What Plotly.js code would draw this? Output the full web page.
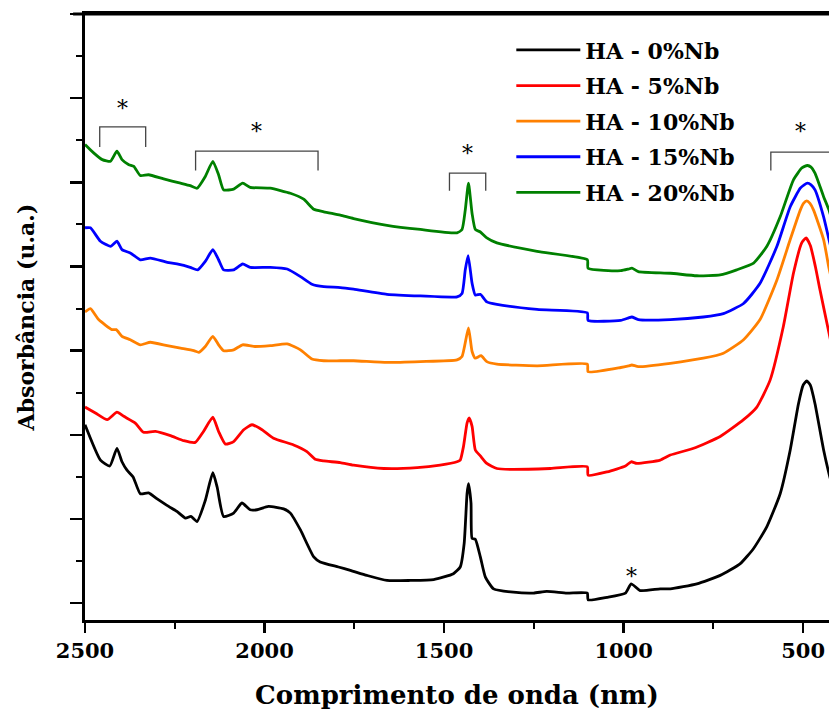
<!DOCTYPE html>
<html>
<head>
<meta charset="utf-8">
<script src="https://cdn.plot.ly/plotly-3.0.1.min.js"></script>
<style>html,body{margin:0;padding:0;background:#fff;}#chart{width:829px;height:716px;}</style>
</head>
<body>
<div id="chart"></div>
<script>
// ---- Data (wavelength in nm, absorbance in arbitrary units, offset stacked) ----
const seriesNames = ["HA - 0%Nb", "HA - 5%Nb", "HA - 10%Nb", "HA - 15%Nb", "HA - 20%Nb"];
const seriesColors = ["#000000", "#ff0000", "#ff8000", "#0000ff", "#008000"];

const wl0 = [2500,2457,2431,2411,2397,2383,2366,2346,2323,2299,2267,2244,2220,2205,2188,2165,2144,2132,2114,2086,2063,2040,2021,1989,1947,1928,1900,1863,1845,1794,1761,1715,1659,1594,1529,1474,1455,1444,1436,1432,1425,1422,1413,1399,1385,1362,1307,1251,1214,1158,1101,1099,1046,995,979,954,898,870,796,731,675,638,601,564,536,513,500,490,480,467,443,428,410];
const abs0 = [2.12,1.70,1.63,1.84,1.68,1.58,1.50,1.30,1.31,1.24,1.15,1.09,1.01,1.03,0.97,1.22,1.55,1.38,1.03,1.07,1.19,1.11,1.11,1.15,1.12,1.07,0.87,0.55,0.49,0.43,0.39,0.33,0.27,0.27,0.28,0.35,0.43,0.71,1.30,1.42,1.19,0.77,0.76,0.55,0.31,0.17,0.13,0.12,0.14,0.12,0.12,0.04,0.07,0.12,0.23,0.15,0.17,0.17,0.23,0.33,0.47,0.65,0.91,1.30,1.82,2.37,2.59,2.64,2.59,2.37,1.82,1.54,1.25];

const wl5 = [2500,2471,2438,2411,2392,2360,2337,2304,2262,2225,2193,2170,2144,2128,2109,2086,2058,2035,2007,1975,1919,1882,1859,1835,1789,1752,1668,1575,1511,1464,1455,1446,1436,1430,1422,1413,1399,1381,1353,1316,1204,1101,1099,1046,995,979,963,898,870,805,731,666,629,592,555,527,504,492,480,466,453,428,410];
const abs5 = [2.33,2.26,2.18,2.27,2.22,2.14,2.03,2.04,1.99,1.93,1.91,2.04,2.21,2.04,1.89,1.92,2.06,2.12,2.06,1.96,1.88,1.80,1.71,1.69,1.67,1.64,1.60,1.61,1.64,1.68,1.70,1.86,2.14,2.20,2.10,1.82,1.75,1.66,1.60,1.59,1.60,1.62,1.52,1.56,1.63,1.68,1.66,1.70,1.76,1.84,1.98,2.18,2.33,2.65,3.29,3.92,4.28,4.34,4.25,4.00,3.72,3.21,2.85];

const wl10 = [2500,2485,2462,2425,2413,2397,2374,2346,2318,2271,2234,2197,2183,2165,2144,2128,2114,2086,2061,2030,1984,1937,1900,1868,1835,1789,1752,1659,1566,1464,1450,1432,1422,1413,1397,1381,1353,1241,1101,1099,1008,986,977,959,870,778,722,666,620,573,536,508,499,490,481,471,443,428,410];
const abs10 = [3.46,3.50,3.37,3.25,3.25,3.17,3.13,3.07,3.10,3.06,3.03,3.00,2.98,3.05,3.17,3.07,3.00,3.01,3.07,3.05,3.06,3.08,3.01,2.90,2.88,2.88,2.88,2.86,2.87,2.89,2.93,3.27,2.99,2.91,2.94,2.87,2.84,2.82,2.84,2.75,2.80,2.82,2.83,2.81,2.85,2.91,2.97,3.13,3.37,3.84,4.32,4.67,4.75,4.78,4.75,4.67,4.32,3.98,3.65];

const wl15 = [2500,2485,2457,2429,2411,2397,2374,2346,2318,2271,2244,2207,2186,2165,2144,2128,2114,2086,2061,2040,1984,1937,1900,1868,1835,1789,1752,1659,1566,1464,1450,1441,1433,1422,1413,1399,1381,1353,1241,1101,1099,1008,986,977,959,870,778,722,666,620,573,536,508,497,488,478,467,443,428,410];
const abs15 = [4.46,4.46,4.30,4.24,4.30,4.20,4.16,4.08,4.10,4.05,4.03,3.99,3.96,4.06,4.20,4.08,3.96,3.96,4.03,3.99,3.99,3.97,3.88,3.79,3.76,3.75,3.73,3.67,3.65,3.64,3.68,3.96,4.13,3.80,3.66,3.67,3.58,3.55,3.49,3.45,3.36,3.36,3.39,3.40,3.37,3.37,3.40,3.44,3.56,3.80,4.24,4.71,4.93,4.97,4.99,4.97,4.91,4.59,4.32,4.00];

const wl20 = [2500,2476,2452,2429,2411,2397,2378,2364,2346,2323,2281,2234,2207,2188,2165,2144,2128,2114,2086,2061,2040,1984,1928,1891,1863,1835,1789,1752,1659,1566,1464,1450,1441,1432,1422,1413,1399,1381,1353,1241,1101,1099,1008,986,977,959,870,796,731,685,638,601,564,527,504,496,488,478,467,443,428,410];
const abs20 = [5.45,5.35,5.27,5.25,5.37,5.27,5.21,5.19,5.08,5.09,5.04,4.99,4.96,4.93,5.07,5.25,5.09,4.91,4.92,4.99,4.94,4.93,4.87,4.80,4.68,4.65,4.61,4.57,4.49,4.44,4.40,4.44,4.67,4.99,4.63,4.44,4.41,4.34,4.28,4.18,4.08,3.98,3.95,3.97,3.98,3.94,3.92,3.89,3.90,3.96,4.04,4.24,4.59,5.03,5.17,5.19,5.20,5.18,5.11,4.83,4.67,4.40];

const xTickVals = [2500, 2000, 1500, 1000, 500];
const xTickText = ["2500", "2000", "1500", "1000", "500"];

// Bracket annotations (marked band regions)
const bracketStart = [2459, 2192, 1485, 590];
const bracketEnd = [2331, 1851, 1384, 380];
const bracketTop = [5.66, 5.37, 5.11, 5.36];
const bracketBottom = [5.42, 5.14, 4.90, 5.14];
const starX = [2396, 2023, 1435, 508, 979];
const starY = [5.93, 5.65, 5.39, 5.65, 0.37];

// ---- Build ----
const wls = [wl0, wl5, wl10, wl15, wl20];
const absv = [abs0, abs5, abs10, abs15, abs20];
const FONT = "DejaVu Serif";

const traces = seriesNames.map((n, i) => ({
  x: wls[i], y: absv[i], name: n, type: "scatter", mode: "lines",
  legendgroup: "g" + i,
  line: {color: seriesColors[i], width: 2.8, shape: "spline", smoothing: 0.5}
}));

const shapes = bracketStart.map((s, i) => ({
  type: "path", xref: "x", yref: "y",
  path: `M${s},${bracketBottom[i]} L${s},${bracketTop[i]} L${bracketEnd[i]},${bracketTop[i]} L${bracketEnd[i]},${bracketBottom[i]}`,
  line: {color: "#444", width: 1.3}
}));
shapes.push({type: "line", xref: "paper", yref: "paper", x0: -0.016, x1: 1, y0: 1, y1: 1, line: {color: "#000", width: 3}});

const annotations = starX.map((x, i) => ({
  x: x, y: starY[i], xref: "x", yref: "y", text: "*", showarrow: false,
  font: {family: FONT, size: 22, color: "#000"}, yanchor: "middle", yshift: -4
}));

const layout = {
  width: 829, height: 716,
  margin: {l: 85, r: 0, t: 14, b: 96},
  paper_bgcolor: "#fff", plot_bgcolor: "#fff",
  showlegend: true,
  legend: {
    x: 0.573, y: 0.975, xanchor: "left", yanchor: "top",
    font: {family: FONT, size: 22, color: "#000", weight: "bold"},
    itemwidth: 64, tracegroupgap: 4, bgcolor: "rgba(0,0,0,0)"
  },
  xaxis: {
    range: [2500, 428], autorange: false,
    tickvals: xTickVals, ticktext: xTickText,
    ticks: "outside", ticklen: 10, tickwidth: 2.5, tickcolor: "#000",
    minor: {dtick: 250, tick0: 0, ticks: "outside", ticklen: 6, tickwidth: 2, tickcolor: "#000"},
    showline: true, linewidth: 3, linecolor: "#000", mirror: true,
    showgrid: false, zeroline: false,
    tickfont: {family: FONT, size: 21, color: "#000", weight: "bold"},
    title: {text: "Comprimento de onda (nm)", font: {family: FONT, size: 26, color: "#000", weight: "bold"}, standoff: 24}
  },
  yaxis: {
    range: [-0.2, 7.0], autorange: false,
    tick0: 0, dtick: 1, ticks: "outside", ticklen: 12, tickwidth: 2.5, tickcolor: "#000",
    minor: {dtick: 0.5, tick0: 0, ticks: "outside", ticklen: 6, tickwidth: 2, tickcolor: "#000"},
    showticklabels: false,
    showline: true, linewidth: 3, linecolor: "#000", mirror: false,
    showgrid: false, zeroline: false,
    title: {text: "Absorbância (u.a.)", font: {family: FONT, size: 22, color: "#000", weight: "bold"}, standoff: 30}
  },
  shapes: shapes,
  annotations: annotations
};

Plotly.newPlot("chart", traces, layout, {displayModeBar: false, staticPlot: true});
</script>
</body>
</html>
